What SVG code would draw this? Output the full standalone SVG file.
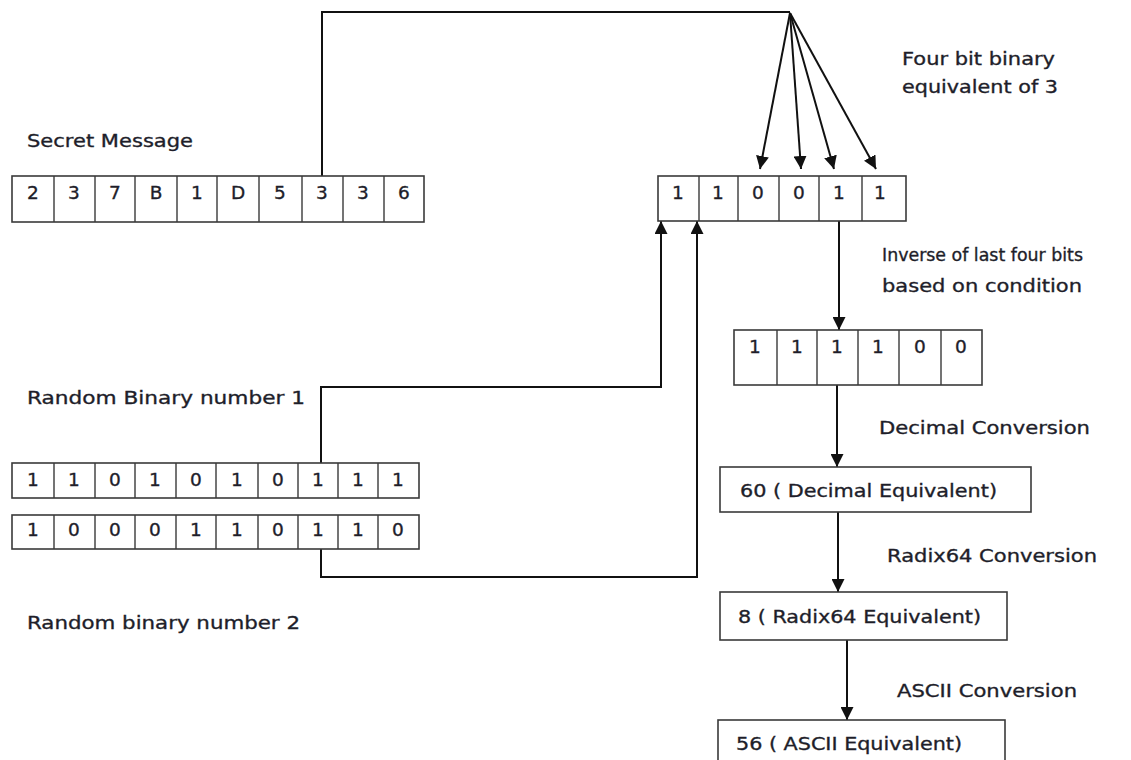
<svg xmlns="http://www.w3.org/2000/svg" width="1131" height="760" viewBox="0 0 1131 760">
<style>
text{font-family:"DejaVu Sans","Liberation Sans",sans-serif;font-size:18.5px;fill:#1e1e2a;stroke:#1e1e2a;stroke-width:0.35}
.c{text-anchor:middle}
.box{fill:#fff;stroke:#3a3a3a;stroke-width:1.6}
.div{stroke:#3a3a3a;stroke-width:1.4}
.con{fill:none;stroke:#111;stroke-width:2}
</style>
<defs>
<marker id="ah" viewBox="0 0 10 10" refX="10" refY="5" markerWidth="13" markerHeight="13" markerUnits="userSpaceOnUse" orient="auto">
<path d="M0,0 L10,5 L0,10 z" fill="#111"/>
</marker>
</defs>
<rect width="1131" height="760" fill="#fff"/>

<g id="labels">
<text x="27" y="147" textLength="166" lengthAdjust="spacingAndGlyphs">Secret Message</text>
<text x="902" y="65" textLength="153" lengthAdjust="spacingAndGlyphs">Four bit binary</text>
<text x="902" y="93" textLength="156" lengthAdjust="spacingAndGlyphs">equivalent of 3</text>
<text x="882" y="261" textLength="201" lengthAdjust="spacingAndGlyphs">Inverse of last four bits</text>
<text x="882" y="292" textLength="200" lengthAdjust="spacingAndGlyphs">based on condition</text>
<text x="27" y="404" textLength="278" lengthAdjust="spacingAndGlyphs">Random Binary  number 1</text>
<text x="27" y="629" textLength="273" lengthAdjust="spacingAndGlyphs">Random binary number 2</text>
<text x="879" y="434" textLength="211" lengthAdjust="spacingAndGlyphs">Decimal Conversion</text>
<text x="887" y="562" textLength="210" lengthAdjust="spacingAndGlyphs">Radix64 Conversion</text>
<text x="897" y="697" textLength="180" lengthAdjust="spacingAndGlyphs">ASCII Conversion</text>
</g>

<g id="connectors">
<polyline class="con" points="322,176 322,12 790,12"/>
<line class="con" x1="790" y1="13" x2="760" y2="169" marker-end="url(#ah)"/>
<line class="con" x1="790" y1="13" x2="801" y2="169" marker-end="url(#ah)"/>
<line class="con" x1="790" y1="13" x2="834" y2="169" marker-end="url(#ah)"/>
<line class="con" x1="790" y1="13" x2="876" y2="169" marker-end="url(#ah)"/>
<polyline class="con" points="321,463 321,387 661,387 661,221" marker-end="url(#ah)"/>
<polyline class="con" points="321,545 321,577 697,577 697,221" marker-end="url(#ah)"/>
<line class="con" x1="839" y1="221" x2="839" y2="330" marker-end="url(#ah)"/>
<line class="con" x1="837" y1="385" x2="837" y2="467" marker-end="url(#ah)"/>
<line class="con" x1="838" y1="512" x2="838" y2="592" marker-end="url(#ah)"/>
<line class="con" x1="847" y1="640" x2="847" y2="720" marker-end="url(#ah)"/>
</g>

<g id="secret-message">
<rect class="box" x="12" y="176" width="412" height="46"/>
<path class="div" d="M54,176V222M95,176V222M135,176V222M177,176V222M217,176V222M259,176V222M302,176V222M343,176V222M384,176V222"/>
<text class="c" x="33" y="199">2</text>
<text class="c" x="74" y="199">3</text>
<text class="c" x="115" y="199">7</text>
<text class="c" x="156" y="199">B</text>
<text class="c" x="197" y="199">1</text>
<text class="c" x="238" y="199">D</text>
<text class="c" x="280" y="199">5</text>
<text class="c" x="322" y="199">3</text>
<text class="c" x="363" y="199">3</text>
<text class="c" x="404" y="199">6</text>
</g>

<g id="six-bit">
<rect class="box" x="658" y="176" width="248" height="45"/>
<path class="div" d="M699,176V221M738,176V221M779,176V221M819,176V221M862,176V221"/>
<text class="c" x="678" y="199">1</text>
<text class="c" x="718" y="199">1</text>
<text class="c" x="758" y="199">0</text>
<text class="c" x="799" y="199">0</text>
<text class="c" x="839" y="199">1</text>
<text class="c" x="880" y="199">1</text>
</g>

<g id="inverse">
<rect class="box" x="734" y="330" width="248" height="55"/>
<path class="div" d="M777,330V385M817,330V385M858,330V385M899,330V385M941,330V385"/>
<text class="c" x="755" y="353">1</text>
<text class="c" x="797" y="353">1</text>
<text class="c" x="837" y="353">1</text>
<text class="c" x="878" y="353">1</text>
<text class="c" x="920" y="353">0</text>
<text class="c" x="961" y="353">0</text>
</g>

<g id="random-1">
<rect class="box" x="12" y="463" width="407" height="35"/>
<path class="div" d="M54,463V498M95,463V498M135,463V498M176,463V498M216,463V498M258,463V498M298,463V498M338,463V498M378,463V498"/>
<text class="c" x="33" y="486">1</text>
<text class="c" x="74" y="486">1</text>
<text class="c" x="115" y="486">0</text>
<text class="c" x="155" y="486">1</text>
<text class="c" x="196" y="486">0</text>
<text class="c" x="237" y="486">1</text>
<text class="c" x="278" y="486">0</text>
<text class="c" x="318" y="486">1</text>
<text class="c" x="358" y="486">1</text>
<text class="c" x="398" y="486">1</text>
</g>

<g id="random-2">
<rect class="box" x="12" y="515" width="407" height="34"/>
<path class="div" d="M54,515V549M95,515V549M135,515V549M176,515V549M216,515V549M258,515V549M298,515V549M338,515V549M378,515V549"/>
<text class="c" x="33" y="536">1</text>
<text class="c" x="74" y="536">0</text>
<text class="c" x="115" y="536">0</text>
<text class="c" x="155" y="536">0</text>
<text class="c" x="196" y="536">1</text>
<text class="c" x="237" y="536">1</text>
<text class="c" x="278" y="536">0</text>
<text class="c" x="318" y="536">1</text>
<text class="c" x="358" y="536">1</text>
<text class="c" x="398" y="536">0</text>
</g>

<g id="decimal">
<rect class="box" x="720" y="467" width="311" height="45"/>
<text x="740" y="497" textLength="257" lengthAdjust="spacingAndGlyphs">60 ( Decimal Equivalent)</text>
</g>

<g id="radix64">
<rect class="box" x="720" y="592" width="287" height="48"/>
<text x="738" y="623" textLength="243" lengthAdjust="spacingAndGlyphs">8 ( Radix64 Equivalent)</text>
</g>

<g id="ascii">
<rect class="box" x="718" y="720" width="287" height="50"/>
<text x="736" y="750" textLength="226" lengthAdjust="spacingAndGlyphs">56 ( ASCII Equivalent)</text>
</g>
</svg>
